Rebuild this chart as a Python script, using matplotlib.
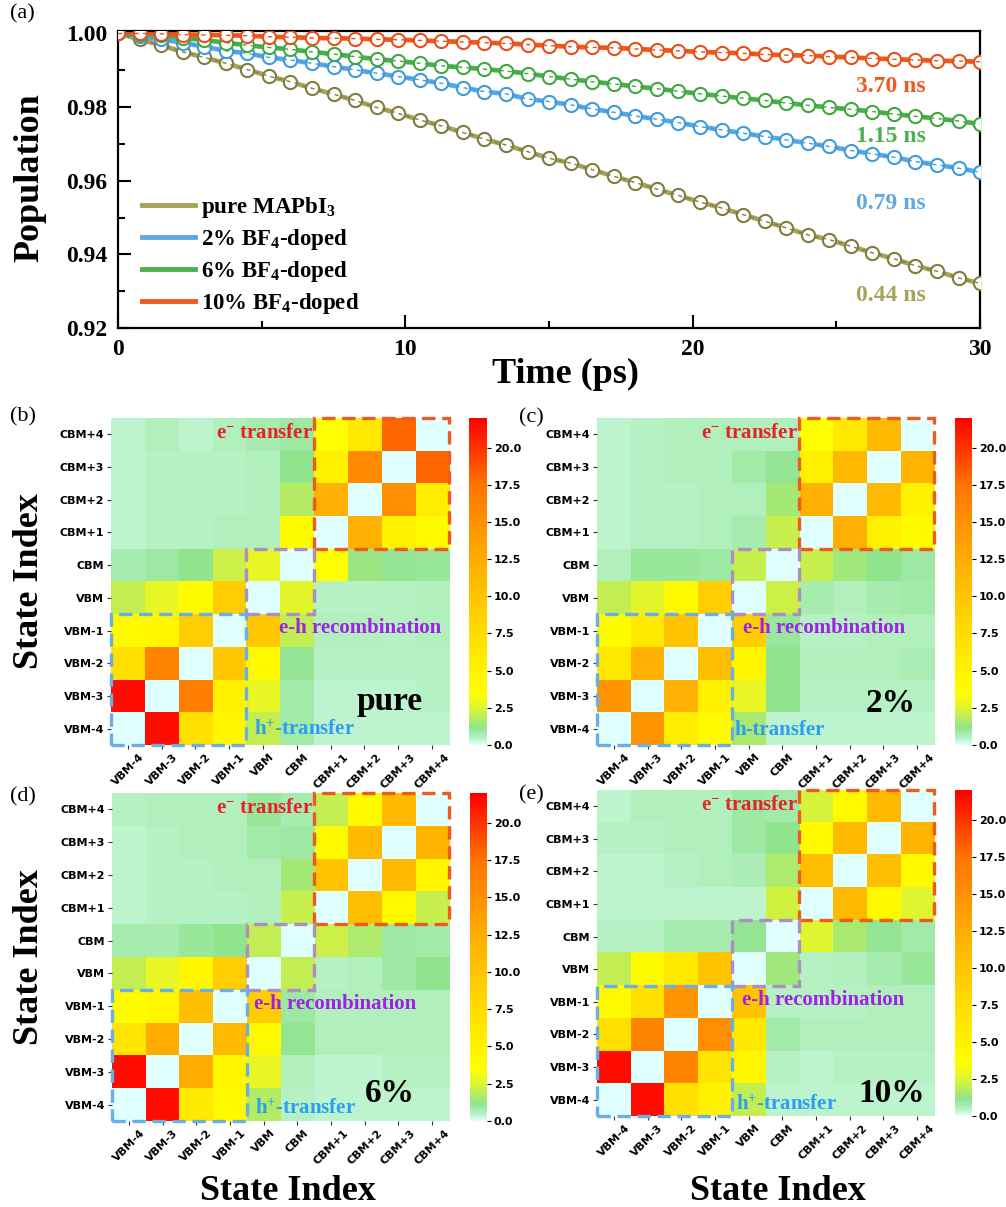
import numpy as np
import matplotlib.pyplot as plt
from matplotlib.colors import LinearSegmentedColormap
from matplotlib.patches import Rectangle

plt.rcParams['font.family'] = 'Liberation Serif'
plt.rcParams['font.weight'] = 'bold'
plt.rcParams['mathtext.fontset'] = 'custom'
plt.rcParams['mathtext.rm'] = 'Liberation Serif:bold'
plt.rcParams['mathtext.bf'] = 'Liberation Serif:bold'
plt.rcParams['mathtext.default'] = 'bf'

# ---- panel (a): population decay ----
time_ps = [0, 0.75, 1.5, 2.25, 3, 3.75, 4.5, 5.25, 6, 6.75, 7.5, 8.25, 9, 9.75,
           10.5, 11.25, 12, 12.75, 13.5, 14.25, 15, 15.75, 16.5, 17.25, 18,
           18.75, 19.5, 20.25, 21, 21.75, 22.5, 23.25, 24, 24.75, 25.5, 26.25,
           27, 27.75, 28.5, 29.25, 30]
pop_pure = [1.0, 0.9984, 0.9968, 0.9950, 0.9935, 0.9919, 0.9902, 0.9884, 0.9869,
            0.9851, 0.9835, 0.9818, 0.9799, 0.9783, 0.9765, 0.9749, 0.9731, 0.9713,
            0.9697, 0.9679, 0.9661, 0.9648, 0.9630, 0.9612, 0.9595, 0.9577, 0.9560,
            0.9542, 0.9526, 0.9508, 0.9490, 0.9472, 0.9453, 0.9440, 0.9422, 0.9404,
            0.9388, 0.9369, 0.9354, 0.9336, 0.9321]
pop_2 = [1.0, 0.9993, 0.9984, 0.9975, 0.9964, 0.9953, 0.9946, 0.9935, 0.9928,
         0.9919, 0.9910, 0.9901, 0.9892, 0.9883, 0.9874, 0.9865, 0.9853, 0.9842,
         0.9836, 0.9822, 0.9815, 0.9806, 0.9795, 0.9786, 0.9776, 0.9767, 0.9758,
         0.9747, 0.9738, 0.9729, 0.9720, 0.9711, 0.9702, 0.9693, 0.9682, 0.9673,
         0.9664, 0.9652, 0.9643, 0.9634, 0.9623]
pop_6 = [1.0, 0.9998, 0.9995, 0.9988, 0.9982, 0.9975, 0.9968, 0.9962, 0.9957,
         0.9950, 0.9944, 0.9937, 0.9930, 0.9925, 0.9919, 0.9912, 0.9908, 0.9903,
         0.9898, 0.9891, 0.9883, 0.9876, 0.9869, 0.9863, 0.9856, 0.9850, 0.9843,
         0.9836, 0.9830, 0.9824, 0.9818, 0.9811, 0.9805, 0.9799, 0.9794, 0.9788,
         0.9781, 0.9775, 0.9769, 0.9762, 0.9754]
pop_10 = [1.0, 1.0, 0.9999, 0.9997, 0.9996, 0.9995, 0.9994, 0.9991, 0.9990,
          0.9988, 0.9987, 0.9986, 0.9984, 0.9983, 0.9981, 0.9979, 0.9977, 0.9975,
          0.9973, 0.9970, 0.9967, 0.9964, 0.9962, 0.9961, 0.9958, 0.9955, 0.9953,
          0.9950, 0.9948, 0.9946, 0.9943, 0.9941, 0.9940, 0.9937, 0.9935, 0.9932,
          0.9930, 0.9928, 0.9926, 0.9925, 0.9923]

names = ['pure MAPbI$_3$', '2% BF$_4$-doped', '6% BF$_4$-doped', '10% BF$_4$-doped']
line_colors = ['#a8a35c', '#5ea8e2', '#4fae4f', '#f05a1e']
mark_colors = ['#7f7d40', '#3d9be0', '#3fa83f', '#e8501a']
lifetimes = ['0.44 ns', '0.79 ns', '1.15 ns', '3.70 ns']
life_y = [0.9288, 0.9537, 0.9719, 0.9857]

# ---- heatmaps: rows top (CBM+4) to bottom (VBM-4), cols VBM-4 .. CBM+4 ----
states = ['VBM-4', 'VBM-3', 'VBM-2', 'VBM-1', 'VBM', 'CBM',
          'CBM+1', 'CBM+2', 'CBM+3', 'CBM+4']

nac_pure = [
    [0.4, 0.55, 0.4, 0.6, 0.7, 0.9, 3.6, 6.0, 18.0, 0],
    [0.35, 0.45, 0.45, 0.5, 0.55, 1.2, 5.0, 15.5, 0, 18.0],
    [0.35, 0.45, 0.45, 0.5, 0.55, 1.8, 12.0, 0, 15.0, 5.5],
    [0.4, 0.45, 0.5, 0.55, 0.55, 3.8, 0, 12.0, 5.0, 4.0],
    [0.7, 0.9, 1.2, 2.2, 2.8, 0, 3.6, 1.3, 1.1, 1.0],
    [2.0, 2.8, 3.8, 9.0, 0, 2.6, 0.5, 0.5, 0.5, 0.6],
    [4.0, 4.5, 9.0, 0, 9.5, 2.0, 0.6, 0.55, 0.5, 0.6],
    [7.0, 16.0, 0, 9.5, 4.0, 1.1, 0.45, 0.45, 0.45, 0.45],
    [21.5, 0, 16.5, 5.0, 2.8, 0.8, 0.35, 0.35, 0.4, 0.45],
    [0, 21.5, 7.0, 4.5, 2.0, 0.8, 0.4, 0.4, 0.4, 0.4],
]
nac_2 = [
    [0.35, 0.45, 0.55, 0.6, 0.6, 0.6, 3.6, 6.0, 11.0, 0],
    [0.4, 0.5, 0.55, 0.6, 0.8, 1.1, 5.0, 11.0, 0, 11.5],
    [0.4, 0.45, 0.5, 0.55, 0.6, 1.5, 12.0, 0, 11.0, 5.0],
    [0.4, 0.45, 0.5, 0.55, 0.7, 2.1, 0, 12.0, 5.0, 4.0],
    [0.6, 1.0, 1.0, 0.9, 2.1, 0, 2.1, 1.4, 1.2, 0.9],
    [2.0, 2.6, 4.2, 9.0, 0, 2.2, 0.7, 0.6, 0.7, 0.85],
    [3.8, 6.0, 10.0, 0, 9.0, 1.0, 0.5, 0.5, 0.55, 0.6],
    [6.0, 12.0, 0, 10.5, 4.5, 1.2, 0.55, 0.55, 0.6, 0.65],
    [14.5, 0, 12.0, 5.0, 2.8, 1.2, 0.45, 0.45, 0.5, 0.5],
    [0, 14.5, 5.5, 4.0, 1.6, 0.4, 0.4, 0.4, 0.4, 0.4],
]
nac_6 = [
    [0.45, 0.55, 0.6, 0.6, 1.0, 0.7, 2.0, 4.2, 11.0, 0],
    [0.4, 0.5, 0.55, 0.6, 0.8, 0.9, 4.0, 11.0, 0, 11.5],
    [0.4, 0.45, 0.5, 0.55, 0.6, 1.5, 10.0, 0, 11.0, 4.5],
    [0.4, 0.45, 0.5, 0.5, 0.55, 2.1, 0, 10.5, 4.2, 2.1],
    [0.7, 0.75, 1.0, 1.2, 2.0, 0, 2.2, 1.7, 0.9, 0.8],
    [2.0, 2.8, 4.5, 9.0, 0, 2.0, 0.5, 0.6, 0.9, 1.2],
    [3.8, 4.5, 10.5, 0, 9.0, 0.9, 0.6, 0.6, 0.6, 0.6],
    [6.5, 12.5, 0, 11.0, 4.2, 1.1, 0.6, 0.6, 0.6, 0.6],
    [21.5, 0, 12.5, 4.5, 2.8, 0.6, 0.4, 0.4, 0.45, 0.5],
    [0, 21.5, 6.0, 4.0, 1.8, 0.45, 0.35, 0.35, 0.4, 0.4],
]
nac_10 = [
    [0.4, 0.6, 0.6, 0.6, 0.9, 0.8, 2.4, 4.0, 11.0, 0],
    [0.45, 0.45, 0.6, 0.6, 0.9, 1.2, 4.0, 11.0, 0, 11.5],
    [0.4, 0.4, 0.45, 0.55, 0.65, 1.7, 10.5, 0, 10.5, 4.0],
    [0.35, 0.35, 0.35, 0.35, 0.35, 2.3, 0, 11.0, 4.2, 2.5],
    [0.5, 0.5, 0.75, 0.7, 1.1, 0, 2.5, 1.6, 1.1, 0.8],
    [2.0, 3.8, 6.0, 10.0, 0, 1.4, 0.45, 0.6, 0.75, 1.0],
    [4.0, 7.0, 14.5, 0, 10.0, 0.45, 0.45, 0.5, 0.55, 0.6],
    [7.0, 16.0, 0, 15.0, 6.0, 0.8, 0.55, 0.6, 0.6, 0.55],
    [21.5, 0, 16.0, 6.5, 4.5, 0.5, 0.4, 0.45, 0.45, 0.5],
    [0, 21.5, 7.0, 5.0, 2.0, 0.35, 0.35, 0.35, 0.35, 0.35],
]

vmax = 22.0
cmap = LinearSegmentedColormap.from_list('nac', [
    (0.0, '#e0ffff'), (0.4 / vmax, '#b8f2c6'), (1.1 / vmax, '#90e490'),
    (2.5 / vmax, '#e0f530'), (3.5 / vmax, '#ffff00'), (7.5 / vmax, '#ffdc00'),
    (12.5 / vmax, '#ffac00'), (17.5 / vmax, '#ff7400'), (1.0, '#ff0000')])

fig = plt.figure(figsize=(10.06, 12.07), dpi=100)

# ---------------- panel (a) ----------------
ax = fig.add_axes([0.1173, 0.7283, 0.857, 0.2461])
series = [pop_pure, pop_2, pop_6, pop_10]
for k in range(4):
    ax.plot(time_ps, series[k], '-', color=line_colors[k], lw=3.4, label=names[k], zorder=2)
for k in range(4):
    ax.plot(time_ps, series[k], 'o', ms=9.5, mfc='white', mec=mark_colors[k], mew=1.5,
            ls='none', zorder=3 + k * 0.1)
    ax.plot(time_ps, series[k], color=mark_colors[k], lw=1.0, dashes=(3, 3), zorder=3.05 + k * 0.1)
    ax.text(26.9, life_y[k], lifetimes[k], color=line_colors[k], fontsize=17,
            ha='center', va='center')
ax.set_xlim(0, 30)
ax.set_ylim(0.92, 1.0007)
ax.set_xticks([0, 10, 20, 30])
ax.set_xticks([5, 15, 25], minor=True)
ax.set_yticks([0.92, 0.94, 0.96, 0.98, 1.00])
ax.set_yticks([0.93, 0.95, 0.97, 0.99], minor=True)
ax.set_yticklabels(['0.92', '0.94', '0.96', '0.98', '1.00'])
ax.tick_params(which='major', direction='in', length=9.5, width=1.5, labelsize=17, pad=8)
ax.tick_params(which='minor', direction='in', length=5, width=1.5)
for s in ax.spines.values():
    s.set_linewidth(1.6)
leg = ax.legend(loc='lower left', bbox_to_anchor=(0.028, 0.04), frameon=False,
                fontsize=16.5, handlelength=2.3, handletextpad=0.25, labelspacing=0.3,
                borderpad=0, borderaxespad=0)
for h in leg.get_lines():
    h.set_linewidth(3.5)
fig.text(0.0298, 0.8525, 'Population', rotation=90, ha='center', va='center', fontsize=26)
fig.text(0.562, 0.6827, 'Time (ps)', ha='center', va='baseline', fontsize=26)

# ---------------- heatmaps ----------------
panels = [
    (nac_pure, [0.1103, 0.3828, 0.336, 0.2709], [0.4662, 0.3828, 0.0179, 0.2709],
     4.96, 4.24, 'h$^{+}$-transfer', 'pure', 8.25, 1.07, 0.46),
    (nac_2, [0.5934, 0.3828, 0.335, 0.2709], [0.9493, 0.3828, 0.0169, 0.2709],
     4.32, 4.08, 'h-transfer', '2%', 8.7, 1.02, 0.46),
    (nac_6, [0.1113, 0.0713, 0.335, 0.2717], [0.4672, 0.0713, 0.0169, 0.2717],
     4.2, 4.23, 'h$^{+}$-transfer', '6%', 8.25, 0.58, 0.35),
    (nac_10, [0.5934, 0.0754, 0.335, 0.2701], [0.9493, 0.0754, 0.0169, 0.2701],
     4.3, 4.13, 'h$^{+}$-transfer', '10%', 8.75, 0.44, 0.34),
]
sans = {'family': 'DejaVu Sans', 'weight': 'bold', 'size': 8}
for mat, pos, cpos, eh_x, h_x, h_txt, tag, tag_x, tag_y, h_y in panels:
    hx = fig.add_axes(pos)
    im = hx.imshow(np.array(mat), cmap=cmap, vmin=0, vmax=vmax, extent=(0, 10, 0, 10),
                   origin='upper', aspect='auto', interpolation='nearest')
    hx.set_xlim(0, 10)
    hx.set_ylim(0, 10)
    for s in hx.spines.values():
        s.set_visible(False)
    hx.set_xticks(np.arange(10) + 0.5)
    hx.set_xticklabels(states, rotation=45, fontdict=sans)
    hx.set_yticks(np.arange(10) + 0.5)
    hx.set_yticklabels(states, fontdict=sans)
    hx.tick_params(length=3, width=0.8, pad=2, colors='#333333', labelcolor='black')
    hx.add_patch(Rectangle((6, 6), 4, 4, fill=False, ec='#f05a1e', lw=2.4,
                           ls=(0, (4, 2)), clip_on=False, zorder=5))
    hx.add_patch(Rectangle((4, 4), 2, 2, fill=False, ec='#ab8fc2', lw=2.4,
                           ls=(0, (4, 2)), clip_on=False, zorder=5))
    hx.add_patch(Rectangle((0, 0), 4, 4, fill=False, ec='#6aaee6', lw=2.4,
                           ls=(0, (4, 2)), clip_on=False, zorder=5))
    hx.text(5.97, 9.55, 'e$^{-}$ transfer', color='#e8202a', fontsize=15,
            ha='right', va='center', zorder=6)
    hx.text(eh_x, 3.57, 'e-h recombination', color='#a020e8', fontsize=15,
            ha='left', va='center', zorder=6)
    hx.text(h_x, h_y, h_txt, color='#2a9df4', fontsize=15, ha='left', va='center', zorder=6)
    hx.text(tag_x, tag_y, tag, color='black', fontsize=24, ha='center', va='baseline', zorder=6)

    cax = fig.add_axes(cpos)
    cb = fig.colorbar(im, cax=cax)
    cb.outline.set_visible(False)
    cb.set_ticks([0, 2.5, 5, 7.5, 10, 12.5, 15, 17.5, 20])
    cb.set_ticklabels(['0.0', '2.5', '5.0', '7.5', '10.0', '12.5', '15.0', '17.5', '20.0'])
    for t in cax.get_yticklabels():
        t.set_fontproperties(sans)
    cax.tick_params(length=3, width=0.8, pad=2)

fig.text(0.0298, 0.5186, 'State Index', rotation=90, ha='center', va='center', fontsize=26)
fig.text(0.0298, 0.2071, 'State Index', rotation=90, ha='center', va='center', fontsize=26)
fig.text(0.286, 0.0058, 'State Index', ha='center', va='baseline', fontsize=26)
fig.text(0.773, 0.0058, 'State Index', ha='center', va='baseline', fontsize=26)

lab = {'fontsize': 16, 'fontweight': 'normal', 'ha': 'center', 'va': 'center'}
fig.text(0.022, 1 - 14 / 1207, '(a)', **lab)
fig.text(0.023, 1 - 417 / 1207, '(b)', **lab)
fig.text(0.528, 1 - 418 / 1207, '(c)', **lab)
fig.text(0.023, 1 - 797 / 1207, '(d)', **lab)
fig.text(0.528, 1 - 795 / 1207, '(e)', **lab)

fig.savefig('out.png', dpi=100)
